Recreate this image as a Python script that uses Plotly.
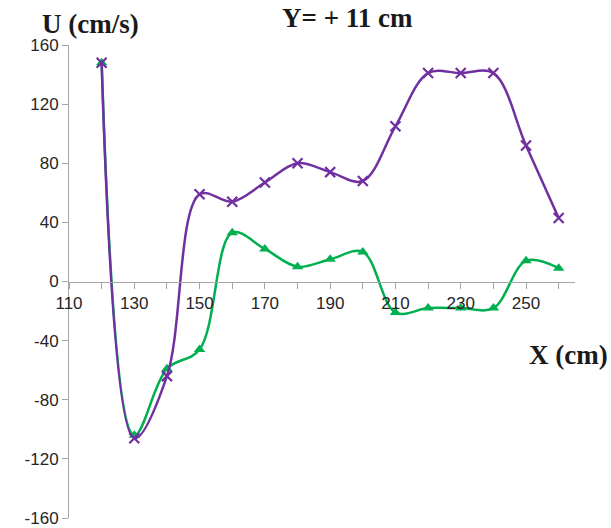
import plotly.graph_objects as go

x_cm = [120, 130, 140, 150, 160, 170, 180, 190, 200, 210, 220, 230, 240, 250, 260]
u_purple = [148, -106, -64, 59, 54, 67, 80, 74, 68, 105, 141, 141, 141, 92, 43]
u_green = [148, -104, -59, -46, 33, 22, 10, 15, 20, -21, -18, -18, -18, 14, 9]

xtick_vals = [110, 130, 150, 170, 190, 210, 230, 250]
xtick_text = ["110", "130", "150", "170", "190", "210", "230", "250"]
ytick_vals = [-160, -120, -80, -40, 0, 40, 80, 120, 160]
ytick_text = ["-160", "-120", "-80", "-40", "0", "40", "80", "120", "160"]

PURPLE = "#7030A0"
GREEN = "#00B050"
AXIS = "#A6A6A6"
TICKFONT = dict(family="Liberation Sans", size=17, color="#262626")

fig = go.Figure()
fig.add_trace(go.Scatter(
    x=x_cm, y=u_green, mode="lines+markers",
    line=dict(color=GREEN, width=2.5, shape="spline", smoothing=1),
    marker=dict(symbol="triangle-up", size=10, color=GREEN),
    showlegend=False))
fig.add_trace(go.Scatter(
    x=x_cm, y=u_purple, mode="lines+markers",
    line=dict(color=PURPLE, width=2.5, shape="spline", smoothing=1),
    marker=dict(symbol="x-thin", size=10, color=PURPLE,
                line=dict(color=PURPLE, width=2.2)),
    showlegend=False))

fig.update_layout(
    width=611, height=528,
    margin=dict(l=69, r=36, t=45, b=10),
    paper_bgcolor="white", plot_bgcolor="white",
    xaxis=dict(range=[110, 265], anchor="free", position=0.5, automargin=False,
               tickmode="array", tickvals=xtick_vals, ticktext=xtick_text,
               ticks="outside", ticklen=6, tickcolor=AXIS, tickwidth=1,
               minor=dict(dtick=10, tick0=110, ticks="outside", ticklen=6,
                          tickcolor=AXIS, tickwidth=1, showgrid=False),
               showline=True, linecolor=AXIS, linewidth=1,
               showgrid=False, zeroline=False, tickfont=TICKFONT),
    yaxis=dict(range=[-160, 160], automargin=False,
               tickmode="array", tickvals=ytick_vals, ticktext=ytick_text,
               ticks="outside", ticklen=6, tickcolor=AXIS, tickwidth=1,
               showline=True, linecolor=AXIS, linewidth=1,
               showgrid=False, zeroline=False, tickfont=TICKFONT),
)

TITLEFONT = dict(family="Liberation Serif", size=27, color="#1a1a1a")
fig.add_annotation(text="<b>Y= + 11 cm</b>", xref="paper", yref="paper",
                   x=(347 - 69) / 506, y=(518 - 18) / 473,
                   xanchor="center", yanchor="middle", showarrow=False,
                   font=TITLEFONT)
fig.add_annotation(text="<b>U (cm/s)</b>", xref="paper", yref="paper",
                   x=(90 - 69) / 506, y=(518 - 24) / 473,
                   xanchor="center", yanchor="middle", showarrow=False,
                   font=TITLEFONT)
fig.add_annotation(text="<b>X (cm)</b>", xref="paper", yref="paper",
                   x=(527 - 69) / 506, y=(518 - 355) / 473,
                   xanchor="left", yanchor="middle", showarrow=False,
                   font=TITLEFONT)

fig.write_html("out.html", config={"displayModeBar": False},
               post_script="document.body.style.margin='0';document.body.style.overflow='hidden';")
